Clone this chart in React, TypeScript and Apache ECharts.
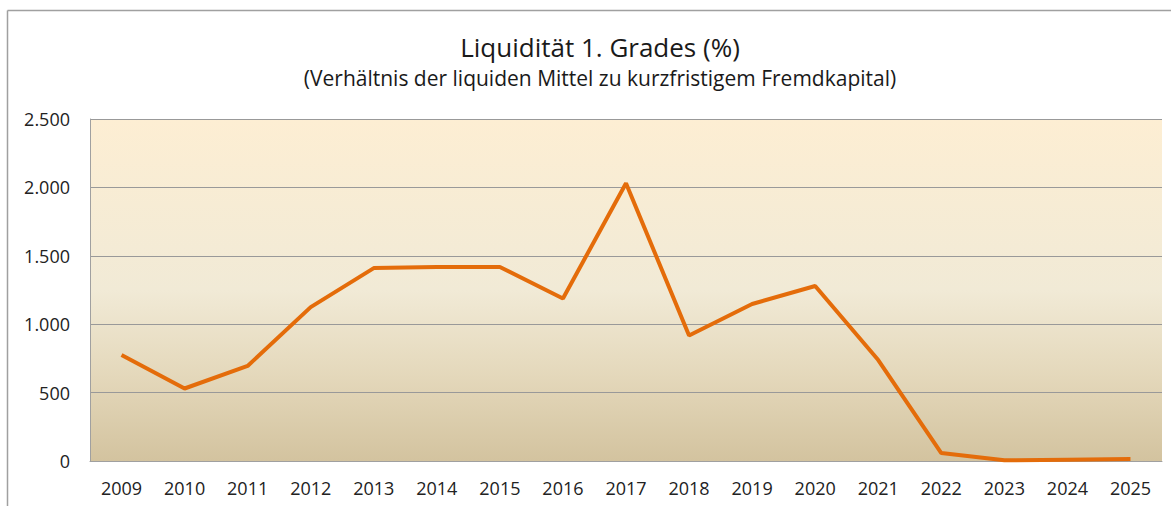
import React, { useEffect, useRef } from "react";
import * as echarts from "echarts";

const categories = ["2009", "2010", "2011", "2012", "2013", "2014", "2015", "2016", "2017", "2018", "2019", "2020", "2021", "2022", "2023", "2024", "2025"];
const values = [775, 530, 695, 1125, 1410, 1418, 1418, 1188, 2030, 918, 1148, 1279, 738, 58, 5, 10, 15];
const titleText = "Liquidität 1. Grades (%)";
const subtitleText = "(Verhältnis der liquiden Mittel zu kurzfristigem Fremdkapital)";

export default function App() {
  const ref = useRef<HTMLDivElement>(null);
  useEffect(() => {
    if (!ref.current) return;
    const chart = echarts.init(ref.current, undefined, { renderer: "svg" });
    const font = "Open Sans";
    chart.setOption({
      animation: false,
      backgroundColor: "#ffffff",
      title: {
        text: titleText,
        subtext: subtitleText,
        left: 595,
        textAlign: "center",
        top: 29,
        itemGap: 7,
        textStyle: { fontFamily: font, fontSize: 26, fontWeight: "normal", color: "#1a1a1a" },
        subtextStyle: { fontFamily: font, fontSize: 21, color: "#1a1a1a" },
      },
      graphic: [
        { type: "line", shape: { x1: 7.5, y1: 10.5, x2: 1171, y2: 10.5 }, style: { stroke: "#a0a0a0", lineWidth: 1.5 } },
        { type: "line", shape: { x1: 7.5, y1: 10.5, x2: 7.5, y2: 506 }, style: { stroke: "#a0a0a0", lineWidth: 1.5 } },
      ],
      grid: {
        left: 90,
        top: 119,
        right: 9,
        bottom: 45,
        show: true,
        borderWidth: 0,
        backgroundColor: new echarts.graphic.LinearGradient(0, 0, 0, 1, [
          { offset: 0, color: "#fdeed3" },
          { offset: 0.5, color: "#f1ead6" },
          { offset: 0.75, color: "#e4d8bb" },
          { offset: 1, color: "#d3c39f" },
        ]),
      },
      xAxis: {
        type: "category",
        data: categories,
        boundaryGap: true,
        axisLine: { show: true, lineStyle: { color: "#a0a0a0", width: 1 } },
        axisTick: { show: false },
        axisLabel: { fontFamily: font, fontSize: 18, color: "#222", margin: 18 },
      },
      yAxis: {
        type: "value",
        min: 0,
        max: 2500,
        interval: 500,
        axisLine: { show: true, lineStyle: { color: "#a0a0a0", width: 1 } },
        axisTick: { show: false },
        splitLine: { show: true, lineStyle: { color: "#999999", width: 1 } },
        axisLabel: {
          fontFamily: font,
          fontSize: 18,
          color: "#222",
          margin: 20,
          formatter: (v: number) => v.toLocaleString("de-DE"),
        },
      },
      series: [
        {
          type: "line",
          data: values,
          symbol: "none",
          lineStyle: { color: "#e46c0a", width: 4 },
        },
      ],
    });
    return () => chart.dispose();
  }, []);
  return <div ref={ref} style={{ position: "fixed", left: 0, top: 0, width: 1171, height: 506 }} />;
}
